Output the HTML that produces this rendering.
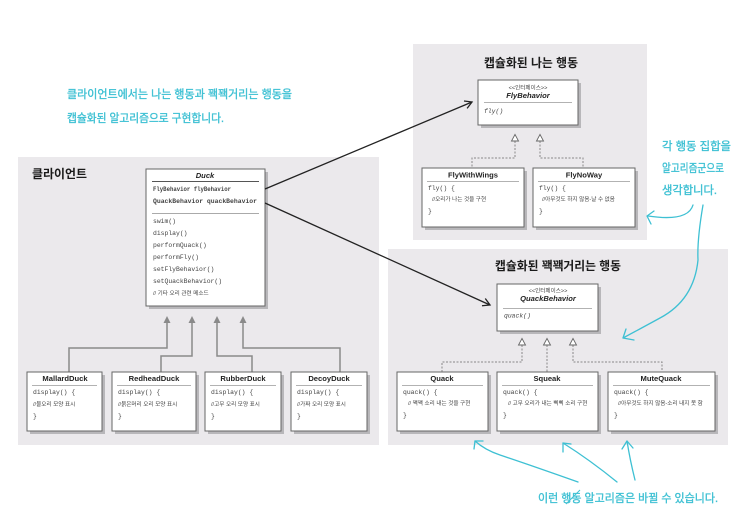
<!DOCTYPE html>
<html>
<head>
<meta charset="utf-8">
<style>
html,body{margin:0;padding:0;background:#fff;}
svg{display:block;}
.mono{font-family:"Liberation Mono","Noto Sans CJK KR",monospace;font-size:6.4px;fill:#444;}
.kr{font-family:"Liberation Sans","Noto Sans CJK KR",sans-serif;font-size:5.6px;fill:#444;}
.ttl{font-family:"Liberation Sans","Noto Sans CJK KR",sans-serif;font-size:7.6px;font-weight:bold;fill:#222;}
.ptitle{font-family:"Liberation Sans","Noto Sans CJK KR",sans-serif;font-size:12px;font-weight:bold;fill:#1a1a1a;}
.hand{font-family:"Liberation Sans","Noto Sans CJK KR",sans-serif;font-size:11.5px;fill:#3ec0d3;stroke:#3ec0d3;stroke-width:0.35px;}
</style>
</head>
<body>
<svg width="737" height="513" viewBox="0 0 737 513" xmlns="http://www.w3.org/2000/svg">
<defs>
<marker id="openarrow" markerWidth="10" markerHeight="10" refX="8" refY="5" orient="auto" markerUnits="userSpaceOnUse">
<path d="M1,1 L8,5 L1,9" fill="none" stroke="#222" stroke-width="1.3"/>
</marker>
</defs>

<!-- panels -->
<rect x="18" y="157" width="361" height="288" fill="#ebe9ec"/>
<rect x="413" y="44" width="234" height="196" fill="#ebe9ec"/>
<rect x="388" y="249" width="340" height="196" fill="#ebe9ec"/>

<!-- panel titles -->
<text class="ptitle" x="32" y="178" textLength="55" lengthAdjust="spacingAndGlyphs">클라이언트</text>
<text class="ptitle" x="484" y="67" textLength="94" lengthAdjust="spacingAndGlyphs">캡슐화된 나는 행동</text>
<text class="ptitle" x="495" y="270" textLength="126" lengthAdjust="spacingAndGlyphs">캡슐화된 꽥꽥거리는 행동</text>

<!-- ===== Duck box ===== -->
<rect x="149" y="172" width="119" height="137" fill="#b8b7ba"/>
<rect x="146" y="169" width="119" height="137" fill="#fff" stroke="#666" stroke-width="1"/>
<text class="ttl" x="205" y="178" text-anchor="middle" font-style="italic">Duck</text>
<line x1="152" y1="181.5" x2="259" y2="181.5" stroke="#555" stroke-width="0.9"/>
<text class="mono" x="153" y="191" font-weight="bold" textLength="78" lengthAdjust="spacingAndGlyphs">FlyBehavior flyBehavior</text>
<text class="mono" x="153" y="203" font-weight="bold" textLength="104" lengthAdjust="spacingAndGlyphs">QuackBehavior quackBehavior</text>
<line x1="152" y1="213.5" x2="259" y2="213.5" stroke="#aaa" stroke-width="0.9"/>
<text class="mono" x="153" y="223">swim()</text>
<text class="mono" x="153" y="235">display()</text>
<text class="mono" x="153" y="247">performQuack()</text>
<text class="mono" x="153" y="259">performFly()</text>
<text class="mono" x="153" y="271">setFlyBehavior()</text>
<text class="mono" x="153" y="283">setQuackBehavior()</text>
<text class="kr" x="153" y="295">// 기타 오리 관련 메소드</text>

<!-- inheritance arrows (filled) -->
<g fill="none" stroke="#8a8a8a" stroke-width="1.5">
<path d="M167,322 V348 H69 V372"/>
<path d="M192,322 V356 H161 V372"/>
<path d="M217,322 V356 H252 V372"/>
<path d="M243,322 V348 H340 V372"/>
</g>
<g fill="#8a8a8a">
<path d="M167,316 L163.5,323 L170.5,323 Z"/>
<path d="M192,316 L188.5,323 L195.5,323 Z"/>
<path d="M217,316 L213.5,323 L220.5,323 Z"/>
<path d="M243,316 L239.5,323 L246.5,323 Z"/>
</g>

<!-- Duck subclasses -->
<g>
<rect x="30" y="375" width="75" height="59" fill="#b8b7ba"/>
<rect x="27" y="372" width="75" height="59" fill="#fff" stroke="#666"/>
<text class="ttl" x="65" y="381" text-anchor="middle">MallardDuck</text>
<line x1="32" y1="385.5" x2="97" y2="385.5" stroke="#999" stroke-width="0.8"/>
<text class="mono" x="33" y="394">display() {</text>
<text class="kr" x="33" y="406">//물오리 모양 표시</text>
<text class="mono" x="33" y="418">}</text>

<rect x="115" y="375" width="84" height="59" fill="#b8b7ba"/>
<rect x="112" y="372" width="84" height="59" fill="#fff" stroke="#666"/>
<text class="ttl" x="154" y="381" text-anchor="middle">RedheadDuck</text>
<line x1="117" y1="385.5" x2="191" y2="385.5" stroke="#999" stroke-width="0.8"/>
<text class="mono" x="118" y="394">display() {</text>
<text class="kr" x="118" y="406">//붉은머리 오리 모양 표시</text>
<text class="mono" x="118" y="418">}</text>

<rect x="208" y="375" width="76" height="59" fill="#b8b7ba"/>
<rect x="205" y="372" width="76" height="59" fill="#fff" stroke="#666"/>
<text class="ttl" x="243" y="381" text-anchor="middle">RubberDuck</text>
<line x1="210" y1="385.5" x2="276" y2="385.5" stroke="#999" stroke-width="0.8"/>
<text class="mono" x="211" y="394">display() {</text>
<text class="kr" x="211" y="406">//고무 오리 모양 표시</text>
<text class="mono" x="211" y="418">}</text>

<rect x="294" y="375" width="76" height="59" fill="#b8b7ba"/>
<rect x="291" y="372" width="76" height="59" fill="#fff" stroke="#666"/>
<text class="ttl" x="329" y="381" text-anchor="middle">DecoyDuck</text>
<line x1="296" y1="385.5" x2="362" y2="385.5" stroke="#999" stroke-width="0.8"/>
<text class="mono" x="297" y="394">display() {</text>
<text class="kr" x="297" y="406">//가짜 오리 모양 표시</text>
<text class="mono" x="297" y="418">}</text>
</g>

<!-- ===== FlyBehavior ===== -->
<rect x="481" y="83" width="100" height="45" fill="#b8b7ba"/>
<rect x="478" y="80" width="100" height="45" fill="#fff" stroke="#666"/>
<text class="kr" x="528" y="89.5" text-anchor="middle" font-size="5.2">&lt;&lt;인터페이스&gt;&gt;</text>
<text class="ttl" x="528" y="98" text-anchor="middle" font-style="italic">FlyBehavior</text>
<line x1="484" y1="102.5" x2="572" y2="102.5" stroke="#999" stroke-width="0.8"/>
<text class="mono" x="484" y="113" font-style="italic">fly()</text>

<!-- dashed realization (fly) -->
<g fill="none" stroke="#888" stroke-width="1" stroke-dasharray="2,1.5">
<path d="M515,141 V158 H472 V168"/>
<path d="M540,141 V158 H583 V168"/>
</g>
<g fill="#fff" stroke="#666" stroke-width="0.9">
<path d="M515,134.5 L511.5,141 L518.5,141 Z"/>
<path d="M540,134.5 L536.5,141 L543.5,141 Z"/>
</g>

<rect x="425" y="171" width="102" height="59" fill="#b8b7ba"/>
<rect x="422" y="168" width="102" height="59" fill="#fff" stroke="#666"/>
<text class="ttl" x="473" y="177.5" text-anchor="middle">FlyWithWings</text>
<line x1="427" y1="181.5" x2="519" y2="181.5" stroke="#999" stroke-width="0.8"/>
<text class="mono" x="428" y="190">fly() {</text>
<text class="kr" x="432" y="201">//오리가 나는 것을 구현</text>
<text class="mono" x="428" y="213">}</text>

<rect x="536" y="171" width="102" height="59" fill="#b8b7ba"/>
<rect x="533" y="168" width="102" height="59" fill="#fff" stroke="#666"/>
<text class="ttl" x="584" y="177.5" text-anchor="middle">FlyNoWay</text>
<line x1="538" y1="181.5" x2="630" y2="181.5" stroke="#999" stroke-width="0.8"/>
<text class="mono" x="539" y="190">fly() {</text>
<text class="kr" x="542" y="201">//아무것도 하지 않음-날 수 없음</text>
<text class="mono" x="539" y="213">}</text>

<!-- ===== QuackBehavior ===== -->
<rect x="500" y="287" width="101" height="47" fill="#b8b7ba"/>
<rect x="497" y="284" width="101" height="47" fill="#fff" stroke="#666"/>
<text class="kr" x="548" y="292.5" text-anchor="middle" font-size="5.2">&lt;&lt;인터페이스&gt;&gt;</text>
<text class="ttl" x="548" y="301" text-anchor="middle" font-style="italic">QuackBehavior</text>
<line x1="503" y1="308.5" x2="592" y2="308.5" stroke="#999" stroke-width="0.8"/>
<text class="mono" x="504" y="317.5" font-style="italic">quack()</text>

<g fill="none" stroke="#888" stroke-width="1" stroke-dasharray="2,1.5">
<path d="M522,345 V362 H442 V372"/>
<path d="M547,345 V372"/>
<path d="M573,345 V362 H662 V372"/>
</g>
<g fill="#fff" stroke="#666" stroke-width="0.9">
<path d="M522,338.5 L518.5,345 L525.5,345 Z"/>
<path d="M547,338.5 L543.5,345 L550.5,345 Z"/>
<path d="M573,338.5 L569.5,345 L576.5,345 Z"/>
</g>

<rect x="400" y="375" width="91" height="59" fill="#b8b7ba"/>
<rect x="397" y="372" width="91" height="59" fill="#fff" stroke="#666"/>
<text class="ttl" x="442" y="381" text-anchor="middle">Quack</text>
<line x1="402" y1="385.5" x2="483" y2="385.5" stroke="#999" stroke-width="0.8"/>
<text class="mono" x="403" y="394">quack() {</text>
<text class="kr" x="408" y="405">// 꽥꽥 소리 내는 것을 구현</text>
<text class="mono" x="403" y="417">}</text>

<rect x="500" y="375" width="101" height="59" fill="#b8b7ba"/>
<rect x="497" y="372" width="101" height="59" fill="#fff" stroke="#666"/>
<text class="ttl" x="547" y="381" text-anchor="middle">Squeak</text>
<line x1="502" y1="385.5" x2="593" y2="385.5" stroke="#999" stroke-width="0.8"/>
<text class="mono" x="503" y="394">quack() {</text>
<text class="kr" x="508" y="405">// 고무 오리가 내는 삑삑 소리 구현</text>
<text class="mono" x="503" y="417">}</text>

<rect x="611" y="375" width="107" height="59" fill="#b8b7ba"/>
<rect x="608" y="372" width="107" height="59" fill="#fff" stroke="#666"/>
<text class="ttl" x="661" y="381" text-anchor="middle">MuteQuack</text>
<line x1="613" y1="385.5" x2="710" y2="385.5" stroke="#999" stroke-width="0.8"/>
<text class="mono" x="614" y="394">quack() {</text>
<text class="kr" x="618" y="405">//아무것도 하지 않음-소리 내지 못 함</text>
<text class="mono" x="614" y="417">}</text>

<!-- association arrows from Duck -->
<line x1="265" y1="189" x2="472" y2="102" stroke="#222" stroke-width="1.3" marker-end="url(#openarrow)"/>
<line x1="265" y1="203" x2="490" y2="305" stroke="#222" stroke-width="1.3" marker-end="url(#openarrow)"/>

<!-- handwritten notes -->
<text class="hand" x="67" y="98" textLength="225" lengthAdjust="spacingAndGlyphs">클라이언트에서는 나는 행동과 꽥꽥거리는 행동을</text>
<text class="hand" x="67" y="122" textLength="157" lengthAdjust="spacingAndGlyphs">캡슐화된 알고리즘으로 구현합니다.</text>

<text class="hand" x="662" y="150" textLength="69" lengthAdjust="spacingAndGlyphs">각 행동 집합을</text>
<text class="hand" x="662" y="172" textLength="62" lengthAdjust="spacingAndGlyphs">알고리즘군으로</text>
<text class="hand" x="662" y="194" textLength="55" lengthAdjust="spacingAndGlyphs">생각합니다.</text>

<text class="hand" x="538" y="502" textLength="180" lengthAdjust="spacingAndGlyphs">이런 행동 알고리즘은 바뀔 수 있습니다.</text>
<path d="M566,504 L580,490" stroke="#3ec0d3" stroke-width="1" fill="none"/>

<g fill="none" stroke="#3ec0d3" stroke-width="1.3" stroke-linecap="round" stroke-linejoin="round">
<!-- right note arrows -->
<path d="M693,205 Q688,222 648,216"/>
<path d="M654,211 L647,216 L651,224"/>
<path d="M703,205 Q697,240 698,260 Q694,300 660,318 Q638,330 623,338"/>
<path d="M626,329 L623,338 L634,340"/>
<!-- bottom arrows -->
<path d="M578,482 Q530,465 500,455 Q485,450 475,441"/>
<path d="M474,449 L475,441 L483,441"/>
<path d="M617,482 Q590,460 563,443"/>
<path d="M563,452 L563,443 L571,444"/>
<path d="M635,480 Q630,460 627,441"/>
<path d="M622,449 L627,441 L633,448"/>
</g>
</svg>
</body>
</html>
